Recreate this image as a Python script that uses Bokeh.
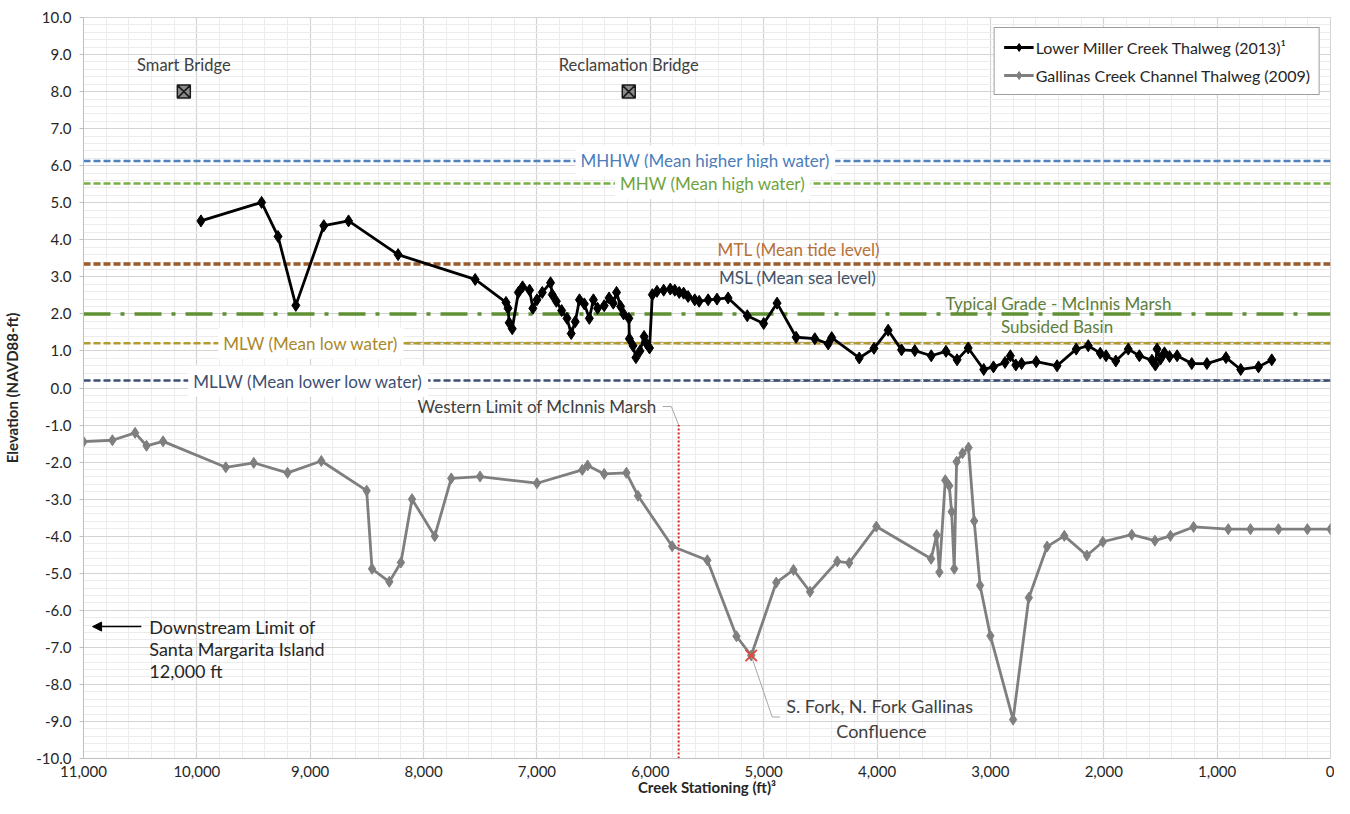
from bokeh.plotting import figure
from bokeh.models import (Range1d, Label, Legend, LegendItem, NumeralTickFormatter,
                          FixedTicker, Span, Arrow, NormalHead)
from bokeh.embed import file_html
from bokeh.resources import INLINE

# ---------------- data ----------------
miller_x = [9964, 9429, 9284, 9127, 8880, 8662, 8225, 7545, 7273, 7255, 7245, 7218, 7164, 7127,
            7065, 7036, 7000, 6953, 6880, 6865, 6829, 6782, 6735, 6698, 6662, 6625, 6582, 6538,
            6502, 6465, 6407, 6364, 6327, 6298, 6262, 6236, 6189, 6185, 6153, 6127, 6091, 6055,
            6036, 6007, 5982, 5941, 5882, 5824, 5784, 5745, 5706, 5667, 5608, 5569, 5490, 5412,
            5314, 5145, 5000, 4882, 4714, 4549, 4431, 4400, 4157, 4027, 3902, 3784, 3667, 3522,
            3392, 3294, 3196, 3059, 2973, 2871, 2824, 2776, 2725, 2596, 2412, 2243, 2137, 2031,
            1980, 1894, 1784, 1686, 1575, 1545, 1530, 1500, 1465, 1420, 1353, 1224, 1090, 922,
            792, 635, 518]
miller_y = [4.51, 5.01, 4.09, 2.23, 4.38, 4.51, 3.60, 2.93, 2.31, 2.15, 1.76, 1.60, 2.58, 2.73,
            2.64, 2.15, 2.38, 2.58, 2.84, 2.52, 2.34, 2.09, 1.88, 1.47, 1.79, 2.38, 2.27, 1.88,
            2.38, 2.15, 2.22, 2.43, 2.29, 2.58, 2.20, 2.00, 1.88, 1.33, 1.14, 0.82, 1.00, 1.39,
            1.21, 1.08, 2.52, 2.61, 2.64, 2.67, 2.64, 2.58, 2.56, 2.47, 2.38, 2.34, 2.38, 2.40,
            2.43, 1.95, 1.74, 2.29, 1.37, 1.33, 1.19, 1.36, 0.81, 1.07, 1.56, 1.03, 1.01, 0.87,
            0.99, 0.76, 1.08, 0.50, 0.57, 0.69, 0.87, 0.62, 0.66, 0.71, 0.60, 1.05, 1.14, 0.94,
            0.87, 0.73, 1.05, 0.87, 0.75, 0.62, 1.05, 0.78, 0.95, 0.85, 0.87, 0.66, 0.66, 0.82,
            0.50, 0.57, 0.76]

gallinas_x = [11000, 10745, 10545, 10444, 10298, 9745, 9498, 9200, 8902, 8502, 8455, 8302, 8200,
              8102, 7902, 7756, 7502, 7000, 6600, 6553, 6407, 6211, 6109, 5807, 5497, 5240, 5110,
              4889, 4737, 4591, 4351, 4246, 4006, 3523, 3474, 3450, 3398, 3363, 3342, 3319, 3298,
              3246, 3193, 3143, 3091, 3000, 2800, 2661, 2500, 2348, 2149, 2008, 1753, 1549, 1412,
              1208, 902, 706, 459, 204, 0]
gallinas_y = [-1.45, -1.41, -1.21, -1.56, -1.44, -2.14, -2.02, -2.29, -1.97, -2.77, -4.88, -5.23,
              -4.71, -3.00, -4.00, -2.44, -2.39, -2.57, -2.21, -2.09, -2.32, -2.29, -2.91, -4.27,
              -4.65, -6.70, -7.22, -5.25, -4.91, -5.50, -4.68, -4.72, -3.74, -4.61, -3.97, -4.97,
              -2.49, -2.64, -3.34, -4.88, -1.99, -1.76, -1.61, -3.59, -5.33, -6.69, -8.95, -5.66,
              -4.28, -3.99, -4.52, -4.15, -3.96, -4.12, -3.99, -3.75, -3.81, -3.81, -3.81, -3.81,
              -3.81]

bridge_names = ["Smart Bridge", "Reclamation Bridge"]
bridge_x = [10115, 6190]
bridge_y = [8.0, 8.0]

tide_names = ["MHHW (Mean higher high water)", "MHW (Mean high water)", "MTL (Mean tide level)",
              "MSL (Mean sea level)", "MLW (Mean low water)", "MLLW (Mean lower low water)"]
tide_levels = [6.13, 5.52, 3.35, 3.30, 1.21, 0.20]
typical_grade = 2.0
western_limit_x = 5750
confluence_x = [5110]
confluence_y = [-7.22]

x_ticks = list(range(0, 11001, 1000))
y_ticks = list(range(-10, 11, 1))

FONT = "Lato"

# ---------------- figure ----------------
p = figure(width=1334, height=798, output_backend="svg", toolbar_location=None,
           x_range=Range1d(11000, 0), y_range=Range1d(-10, 10),
           min_border_left=82, min_border_right=4, min_border_top=17, min_border_bottom=0)
p.outline_line_color = "#d4d4d4"
p.background_fill_color = "white"

p.xaxis.ticker = FixedTicker(ticks=x_ticks, minor_ticks=list(range(0, 11001, 200)))
p.yaxis.ticker = FixedTicker(ticks=y_ticks, minor_ticks=[v / 5 for v in range(-50, 51)])
p.xaxis.formatter = NumeralTickFormatter(format="0,0")
p.yaxis.formatter = NumeralTickFormatter(format="0.0")

for ax in (p.xaxis, p.yaxis):
    ax.axis_line_color = "#bfbfbf"
    ax.major_tick_line_color = "#bfbfbf"
    ax.major_tick_in = 0
    ax.minor_tick_line_color = None
    ax.major_label_text_font = FONT
    ax.major_label_text_font_size = "15px"
    ax.major_label_text_color = "#262626"
    ax.axis_label_text_font = FONT
    ax.axis_label_text_font_style = "bold"
    ax.axis_label_text_font_size = "15px"
    ax.axis_label_text_color = "#262626"

p.xaxis.major_tick_out = 0
p.yaxis.major_tick_out = 4
p.xaxis.axis_label = "Creek Stationing (ft)\u00b3"
p.yaxis.axis_label = "Elevation (NAVD88-ft)"
p.xaxis.major_label_standoff = 3
p.xaxis.axis_label_standoff = -2
p.yaxis.major_label_standoff = 8
p.yaxis.axis_label_standoff = 12

for g in (p.xgrid, p.ygrid):
    g.grid_line_color = "#d4d4d4"
    g.grid_line_width = 1.2
    g.minor_grid_line_color = "#ececec"
    g.minor_grid_line_width = 1

# ---------------- tide / reference lines ----------------
tide_colors = ["#4f81bd", "#77b041", "#9c5b2a", None, "#b39b2d", "#3d4f70"]
tide_widths = [2.5, 2.5, 3.5, 0, 2.5, 2.5]
for lvl, col, w in zip(tide_levels, tide_colors, tide_widths):
    if col is None:
        continue
    p.add_layout(Span(location=lvl, dimension="width", line_color=col, line_width=w,
                      line_dash="7 3", level="underlay"))

# right-hand parts of MLW and MLLW are lighter
p.segment(x0=[8150], y0=[tide_levels[4]], x1=[0], y1=[tide_levels[4]], line_color="#ada68c",
          line_width=2.6, line_dash="7 3", level="underlay")
p.segment(x0=[5200], y0=[tide_levels[5]], x1=[0], y1=[tide_levels[5]], line_color="#8d96aa",
          line_width=2.6, line_dash="7 3", level="underlay")

p.add_layout(Span(location=typical_grade, dimension="width", line_color="#5f9134",
                  line_width=3.5, line_dash="27 10 4 10", level="underlay"))

# western limit of McInnis Marsh
p.segment(x0=[western_limit_x], y0=[-10], x1=[western_limit_x], y1=[-1.0],
          line_color="#e02020", line_width=2, line_dash="2 2")
p.line(x=[5890, 5815, western_limit_x], y=[-0.5, -0.5, -1.0], line_color="#a6a6a6", line_width=1)

# ---------------- data series ----------------
g_line = p.line(gallinas_x, gallinas_y, line_color="#7f7f7f", line_width=2.8)
g_pts = p.scatter(gallinas_x, gallinas_y, marker="diamond", size=11, fill_color="#7f7f7f",
                  line_color="#7f7f7f")
m_line = p.line(miller_x, miller_y, line_color="black", line_width=2.8)
m_pts = p.scatter(miller_x, miller_y, marker="diamond", size=12, fill_color="black",
                  line_color="black")

# confluence marker and leader
p.line(x=[confluence_x[0], 4925, 4855], y=[confluence_y[0], -8.88, -8.88],
       line_color="#a6a6a6", line_width=1)
p.scatter(confluence_x, confluence_y, marker="x", size=16, line_color="#e0483c", line_width=2)

# bridges
p.scatter(bridge_x, bridge_y, marker="square_x", size=13, fill_color="#8a8a8a",
          line_color="#1a1a1a", line_width=1.5)
for name, bx, by in zip(bridge_names, bridge_x, bridge_y):
    p.add_layout(Label(x=bx, y=by + 0.73, text=name, text_align="center", text_baseline="middle",
                       text_font=FONT, text_font_size="16.5px", text_color="#404040"))

# ---------------- text labels ----------------
def lab(x, y, text, color, bg=False, size="17px", align="center"):
    kw = dict(x=x, y=y, text=text, text_align=align, text_baseline="middle", text_font=FONT,
              text_font_size=size, text_color=color)
    if bg:
        kw.update(background_fill_color="white", padding=5)
    p.add_layout(Label(**kw))

lab(5515, tide_levels[0], tide_names[0], "#4a7ebb", bg=True)
lab(5450, tide_levels[1], tide_names[1], "#6ea43c", bg=True)
lab(4690, 3.74, tide_names[2], "#b8713a")
lab(4700, 2.98, tide_names[3], "#44546a")
lab(8995, tide_levels[4], tide_names[4], "#a8892a", bg=True)
lab(9018, 0.18, tide_names[5], "#3d4f70", bg=True)
lab(2400, 2.29, "Typical Grade - McInnis Marsh", "#5e7f3c")
lab(2412, 1.67, "Subsided Basin", "#5e7f3c")
lab(5945, -0.5, "Western Limit of McInnis Marsh", "#404040", align="right")
lab(4801, -8.58, "S. Fork, N. Fork Gallinas", "#404040", size="18px", align="left")
lab(3962, -9.25, "Confluence", "#404040", size="18px")
lab(10420, -6.44, "Downstream Limit of", "#262626", size="18px", align="left")
lab(10420, -7.04, "Santa Margarita Island", "#262626", size="18px", align="left")
lab(10420, -7.64, "12,000 ft", "#262626", size="18px", align="left")

p.add_layout(Arrow(end=NormalHead(size=9, fill_color="black", line_color="black"),
                   x_start=10490, y_start=-6.44, x_end=10920, y_end=-6.44,
                   line_color="black", line_width=1.5))

# ---------------- legend ----------------
legend = Legend(items=[
    LegendItem(label="Lower Miller Creek Thalweg (2013)\u00b9", renderers=[m_line, m_pts]),
    LegendItem(label="Gallinas Creek Channel Thalweg (2009)", renderers=[g_line, g_pts]),
], location="top_right")
legend.label_text_font = FONT
legend.label_text_font_size = "16px"
legend.label_text_color = "#262626"
legend.border_line_color = "#404040"
legend.border_line_width = 1
legend.background_fill_alpha = 1
legend.padding = 9
legend.spacing = 8
legend.margin = 10
legend.glyph_width = 30
legend.label_standoff = 2
p.add_layout(legend)

open("out.html", "w").write(file_html(p, INLINE))
